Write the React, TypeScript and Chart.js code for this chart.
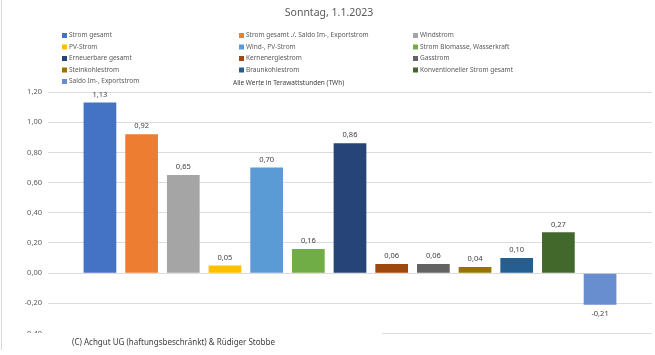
import React, { useEffect, useRef } from "react";
import { Chart, registerables } from "chart.js";

Chart.register(...registerables);

const categories = [""];
const seriesNames = [
  "Strom gesamt",
  "Strom gesamt ./. Saldo Im-, Exportstrom",
  "Windstrom",
  "PV-Strom",
  "Wind-, PV-Strom",
  "Strom Biomasse, Wasserkraft",
  "Erneuerbare gesamt",
  "Kernenergiestrom",
  "Gasstrom",
  "Steinkohlestrom",
  "Braunkohlestrom",
  "Konventioneller Strom gesamt",
  "Saldo Im-, Exportstrom",
];
const seriesValues = [1.13, 0.92, 0.65, 0.05, 0.7, 0.16, 0.86, 0.06, 0.06, 0.04, 0.1, 0.27, -0.21];
const seriesColors = [
  "#4472C4",
  "#ED7D31",
  "#A5A5A5",
  "#FFC000",
  "#5B9BD5",
  "#70AD47",
  "#264478",
  "#9E480E",
  "#636363",
  "#997300",
  "#255E91",
  "#43682B",
  "#698ED0",
];
const yMin = -0.4;
const yMax = 1.2;
const yStep = 0.2;
const titleText = "Sonntag, 1.1.2023";
const subtitleText = "Alle Werte in Terawattstunden (TWh)";
const footerText = "(C) Achgut UG (haftungsbeschränkt) & Rüdiger Stobbe";

const FONT = "'Noto Sans', 'Open Sans', sans-serif";
const fmt = (v: number) => v.toFixed(2).replace(".", ",");

const decorPlugin = {
  id: "decor",
  afterDatasetsDraw(chart: any) {
    const ctx = chart.ctx;
    ctx.save();
    ctx.font = `7.5px ${FONT}`;
    ctx.fillStyle = "#404040";
    ctx.textAlign = "center";
    ctx.textBaseline = "middle";
    chart.data.datasets.forEach((ds: any, i: number) => {
      const meta = chart.getDatasetMeta(i);
      meta.data.forEach((el: any, j: number) => {
        const v = ds.data[j];
        const y = v >= 0 ? el.y - 8 : el.y + 9;
        ctx.fillText(fmt(v), el.x, y);
      });
    });
    ctx.restore();
  },
  afterDraw(chart: any) {
    const ctx = chart.ctx;
    const area = chart.chartArea;
    ctx.save();
    ctx.fillStyle = "#ffffff";
    ctx.fillRect(2, area.bottom - 0.5, 380, 30);
    ctx.fillStyle = "#404040";
    ctx.font = `8px ${FONT}`;
    ctx.textAlign = "left";
    ctx.textBaseline = "middle";
    ctx.fillText(footerText, 72, 343);
    ctx.fillStyle = "#595959";
    ctx.font = `10.5px ${FONT}`;
    ctx.textAlign = "center";
    ctx.fillText(titleText, 329, 13);
    ctx.font = `6.5px ${FONT}`;
    ctx.textAlign = "left";
    const colX = [62, 239, 413];
    const rowY = [35.5, 47, 58.5, 70, 81.5];
    chart.data.datasets.forEach((ds: any, i: number) => {
      const r = Math.floor(i / 3);
      const c = i % 3;
      const x = colX[c];
      const y = rowY[r];
      ctx.fillStyle = ds.backgroundColor;
      ctx.fillRect(x, y - 2.5, 5, 5);
      ctx.fillStyle = "#595959";
      ctx.fillText(ds.label, x + 7, y);
    });
    ctx.fillStyle = "#404040";
    ctx.font = `6.5px ${FONT}`;
    ctx.fillText(subtitleText, 233, 83);
    ctx.strokeStyle = "#d9d9d9";
    ctx.lineWidth = 1;
    ctx.beginPath();
    ctx.moveTo(1.5, 0);
    ctx.lineTo(1.5, 350);
    ctx.stroke();
    ctx.restore();
  },
};

export default function App() {
  const ref = useRef<HTMLCanvasElement>(null);
  useEffect(() => {
    if (!ref.current) return;
    const chart = new Chart(ref.current, {
      type: "bar",
      data: {
        labels: categories,
        datasets: seriesNames.map((name, i) => ({
          label: name,
          data: [seriesValues[i]],
          backgroundColor: seriesColors[i],
          borderWidth: 0,
          barPercentage: 0.785,
          categoryPercentage: 0.897,
        })),
      },
      options: {
        animation: false,
        responsive: false,
        layout: { padding: { top: 92, bottom: 21.5, left: 0, right: 3 } },
        plugins: {
          legend: { display: false },
          title: { display: false },
          tooltip: { enabled: false },
        },
        scales: {
          x: { display: false },
          y: {
            min: yMin,
            max: yMax,
            afterFit: (scale: any) => {
              scale.width = 48;
            },
            ticks: {
              stepSize: yStep,
              padding: 6,
              color: "#595959",
              font: { family: FONT, size: 7.5 },
              callback: (v: any) => fmt(Number(v)),
            },
            grid: { color: "#dcdcdc", drawTicks: false },
            border: { display: false },
          },
        },
      },
      plugins: [decorPlugin],
    });
    return () => chart.destroy();
  }, []);
  return (
    <div style={{ position: "absolute", left: 0, top: 0, width: 655, height: 355, background: "#fff" }}>
      <canvas ref={ref} width={655} height={355} />
    </div>
  );
}
